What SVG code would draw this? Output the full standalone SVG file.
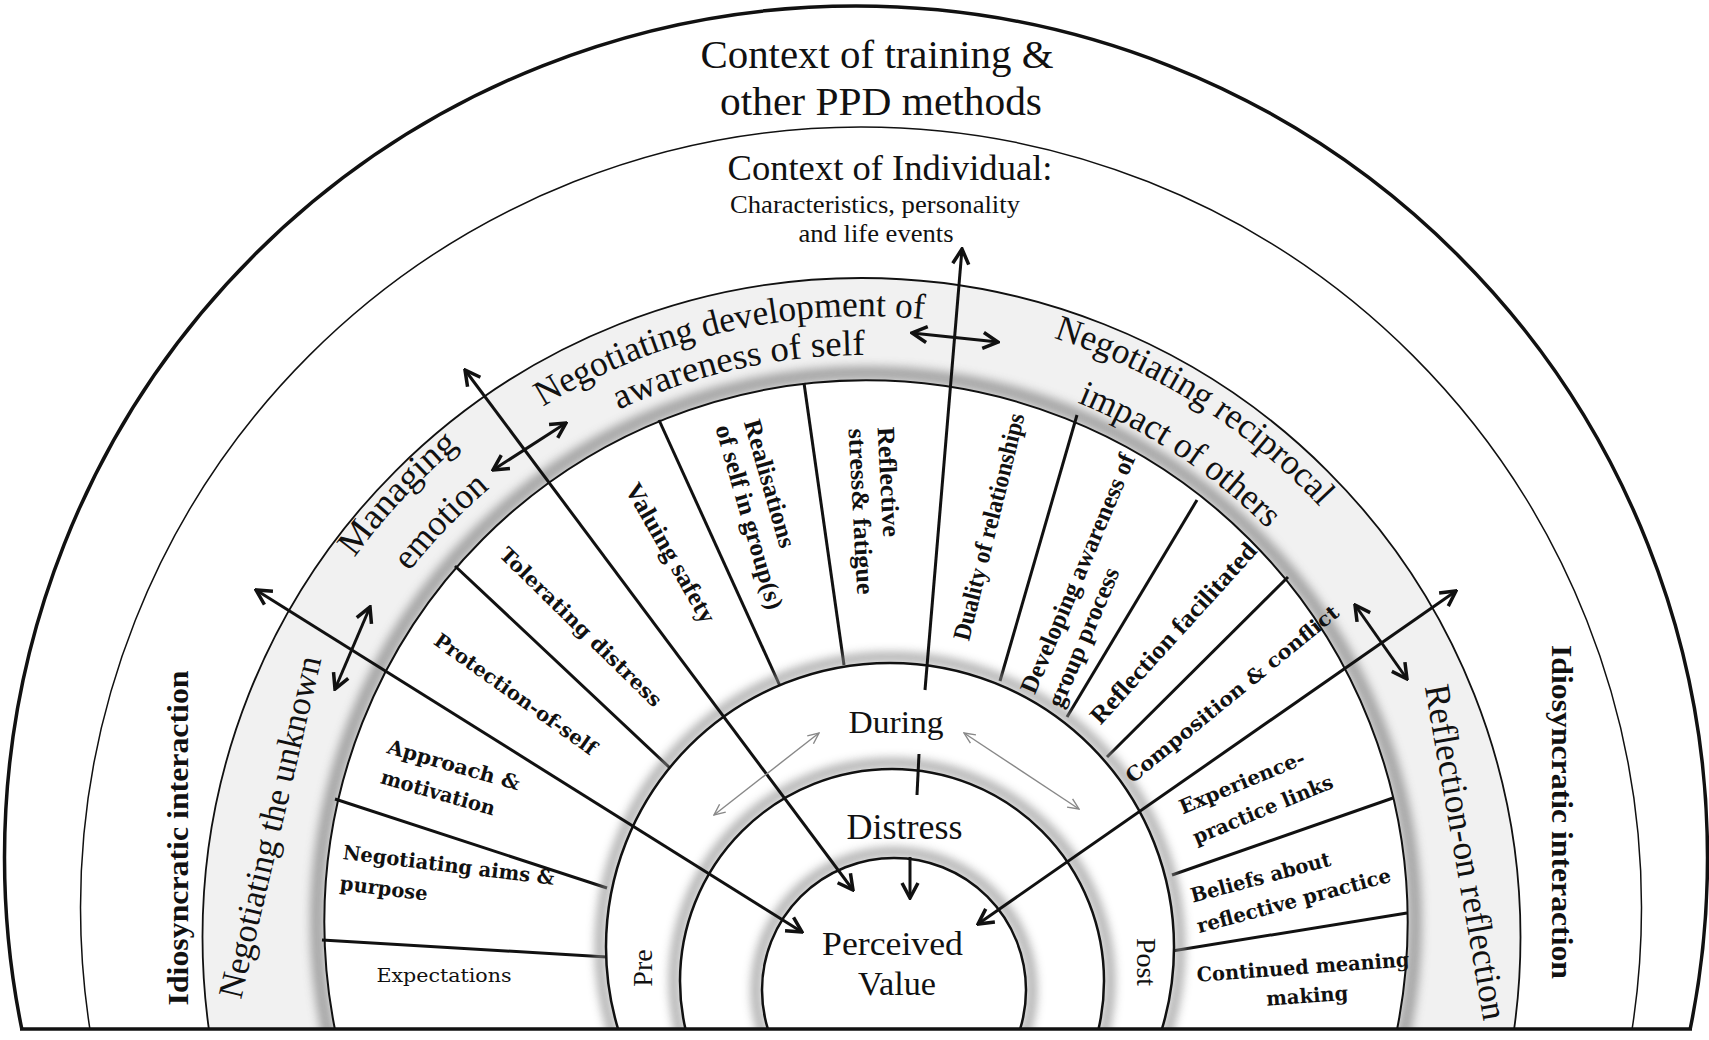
<svg xmlns="http://www.w3.org/2000/svg" width="1709" height="1040" viewBox="0 0 1709 1040">
<defs>
<style>
.t{font-family:"Liberation Serif","Times New Roman",serif;fill:#111}
.b{font-family:"Liberation Serif","Times New Roman",serif;font-weight:bold;font-size:25px;fill:#111}
.w{font-family:"DejaVu Serif",serif;font-weight:bold;font-size:20px;fill:#111}
.ring{stroke:#111;fill:#fff}
.spoke{stroke:#111;stroke-width:3}
.arr{stroke:#111;stroke-width:3;fill:none}
.thin{stroke:#888;stroke-width:1.4;fill:none}
.sh{fill:none;stroke:#8c8c8c;filter:url(#blur)}
</style>
<clipPath id="clip"><rect x="0" y="0" width="1709" height="1029"/></clipPath>
<filter id="blur" x="-10%" y="-10%" width="120%" height="120%"><feGaussianBlur stdDeviation="5"/></filter>
<marker id="ah" viewBox="0 0 20 20" refX="18" refY="10" markerWidth="20" markerHeight="20" markerUnits="userSpaceOnUse" orient="auto-start-reverse"><path d="M3,2 L18,10 L3,18" fill="none" stroke="#111" stroke-width="3.5"/></marker>
<marker id="ahs" viewBox="0 0 14 14" refX="13" refY="7" markerWidth="14" markerHeight="14" markerUnits="userSpaceOnUse" orient="auto-start-reverse"><path d="M2,2 L13,7 L2,12" fill="none" stroke="#888" stroke-width="1.4"/></marker>
<path id="pNd" d="M250,930 A614,614 0 0 1 1478,930"/>
<path id="pAw" d="M289,930 A575,575 0 0 1 1439,930"/>
<path id="pNr" d="M242,930 A622,622 0 0 1 1486,930"/>
<path id="pIm" d="M295,930 A569,569 0 0 1 1433,930"/>
<path id="pMa" d="M233,930 A631,631 0 0 1 1495,930"/>
<path id="pEm" d="M285,930 A579,579 0 0 1 1443,930"/>
</defs>
<rect width="1709" height="1040" fill="#fff"/>
<g id="rings" clip-path="url(#clip)">
<circle cx="856" cy="857.5" r="851.5" class="ring" stroke-width="3.5"/>
<circle cx="861" cy="907.5" r="780.5" class="ring" stroke-width="1.5"/>
<circle cx="861.5" cy="937" r="659" fill="#f1f1f1" stroke="#111" stroke-width="1.8"/>
<circle cx="866" cy="922" r="549" class="sh" stroke-width="14" opacity="0.75"/>
<circle cx="866" cy="922" r="541.7" class="ring" stroke-width="2"/>
<g id="spokes">
<line x1="322" y1="940" x2="607" y2="957" class="spoke"/>
<line x1="335" y1="799" x2="607" y2="888" class="spoke"/>
<line x1="455" y1="566" x2="670" y2="768" class="spoke"/>
<line x1="659" y1="420" x2="780" y2="686" class="spoke"/>
<line x1="804" y1="383" x2="844" y2="665" class="spoke"/>
<line x1="1000" y1="681" x2="1077" y2="415" class="spoke"/>
<line x1="1067" y1="717" x2="1197" y2="500" class="spoke"/>
<line x1="1107" y1="757" x2="1288" y2="577" class="spoke"/>
<line x1="1172" y1="875" x2="1393" y2="798" class="spoke"/>
<line x1="1172" y1="951" x2="1407" y2="913" class="spoke"/>
</g>
<circle cx="890" cy="947" r="290" class="sh" stroke-width="10" opacity="0.7"/>
<circle cx="890" cy="947" r="284" class="ring" stroke-width="2.5"/>
<circle cx="892" cy="981" r="218" class="sh" stroke-width="10" opacity="0.7"/>
<circle cx="892" cy="981" r="212" class="ring" stroke-width="2.5"/>
<circle cx="894" cy="990" r="138" class="sh" stroke-width="10" opacity="0.7"/>
<circle cx="894" cy="990" r="132" class="ring" stroke-width="2.5"/>
</g>
<line x1="20" y1="1029" x2="1692" y2="1029" stroke="#111" stroke-width="3.5"/>

<g id="context-training"><text class="t" font-size="41" x="877" y="68" text-anchor="middle" textLength="353" lengthAdjust="spacingAndGlyphs">Context of training &amp;</text><text class="t" font-size="41" x="881" y="115" text-anchor="middle" textLength="322" lengthAdjust="spacingAndGlyphs">other PPD methods</text></g>
<g id="context-individual"><text class="t" font-size="36" x="890" y="180" text-anchor="middle" textLength="325" lengthAdjust="spacingAndGlyphs">Context of Individual:</text><text class="t" font-size="25" x="875" y="213" text-anchor="middle" textLength="290" lengthAdjust="spacingAndGlyphs">Characteristics, personality</text><text class="t" font-size="25" x="876" y="242" text-anchor="middle" textLength="155" lengthAdjust="spacingAndGlyphs">and life events</text></g>
<g id="idio-left"><text class="b" style="font-size:30px" transform="translate(177,838) rotate(-90)" text-anchor="middle" dominant-baseline="central" textLength="335" lengthAdjust="spacingAndGlyphs">Idiosyncratic interaction</text></g>
<g id="idio-right"><text class="b" style="font-size:30px" transform="translate(1562,812) rotate(90)" text-anchor="middle" dominant-baseline="central" textLength="334" lengthAdjust="spacingAndGlyphs">Idiosyncratic interaction</text></g>

<g id="negotiating-unknown"><text class="t" font-size="35" transform="translate(270,827) rotate(-76.7)" text-anchor="middle" dominant-baseline="central" textLength="350" lengthAdjust="spacingAndGlyphs">Negotiating the unknown</text></g>
<g id="managing-emotion"><text class="t" font-size="36"><textPath href="#pMa" startOffset="474.6" text-anchor="middle" textLength="153" lengthAdjust="spacingAndGlyphs">Managing</textPath></text><text class="t" font-size="36"><textPath href="#pEm" startOffset="444.6" text-anchor="middle" textLength="116" lengthAdjust="spacingAndGlyphs">emotion</textPath></text></g>
<g id="negotiating-self"><text class="t" font-size="36"><textPath href="#pNd" startOffset="825.2" text-anchor="middle" textLength="398" lengthAdjust="spacingAndGlyphs">Negotiating development of</textPath></text><text class="t" font-size="36"><textPath href="#pAw" startOffset="776.8" text-anchor="middle" textLength="254" lengthAdjust="spacingAndGlyphs">awareness of self</textPath></text></g>
<g id="negotiating-others"><text class="t" font-size="36"><textPath href="#pNr" startOffset="1328.8" text-anchor="middle" textLength="319" lengthAdjust="spacingAndGlyphs">Negotiating reciprocal</textPath></text><text class="t" font-size="36"><textPath href="#pIm" startOffset="1227.4" text-anchor="middle" textLength="230" lengthAdjust="spacingAndGlyphs">impact of others</textPath></text></g>
<g id="reflection-on-reflection"><text class="t" font-size="36" transform="translate(1466,852) rotate(80)" text-anchor="middle" dominant-baseline="central" textLength="340" lengthAdjust="spacingAndGlyphs">Reflection-on reflection</text></g>

<g id="expectations"><text class="w" style="font-weight:normal;font-size:18px" x="444" y="975" text-anchor="middle" dominant-baseline="central" textLength="135" lengthAdjust="spacingAndGlyphs">Expectations</text></g>
<g id="aims" transform="translate(343,852) rotate(7)"><text class="w" dominant-baseline="central" textLength="213" lengthAdjust="spacingAndGlyphs">Negotiating aims &amp;</text><text class="w" x="1" y="31" dominant-baseline="central" textLength="88" lengthAdjust="spacingAndGlyphs">purpose</text></g>
<g id="approach" transform="translate(388,746) rotate(16)"><text class="w" dominant-baseline="central" textLength="137" lengthAdjust="spacingAndGlyphs">Approach &amp;</text><text class="w" x="2" y="31" dominant-baseline="central" textLength="118" lengthAdjust="spacingAndGlyphs">motivation</text></g>
<g id="protection"><text class="w" transform="translate(515.5,694) rotate(35.4)" text-anchor="middle" dominant-baseline="central" textLength="194" lengthAdjust="spacingAndGlyphs">Protection-of-self</text></g>
<g id="tolerating"><text class="w" transform="translate(581,627) rotate(44.4)" text-anchor="middle" dominant-baseline="central" textLength="218" lengthAdjust="spacingAndGlyphs">Tolerating distress</text></g>
<g id="valuing"><text class="b" transform="translate(671,553) rotate(60.2)" text-anchor="middle" dominant-baseline="central" textLength="157" lengthAdjust="spacingAndGlyphs">Valuing safety</text></g>
<g id="realisations" transform="translate(752,420) rotate(74)"><text class="b" dominant-baseline="central" textLength="132" lengthAdjust="spacingAndGlyphs">Realisations</text><text class="b" x="-3" y="29" dominant-baseline="central" textLength="191" lengthAdjust="spacingAndGlyphs">of self in group(s)</text></g>
<g id="reflective" transform="translate(886,427) rotate(87)"><text class="b" dominant-baseline="central" textLength="110" lengthAdjust="spacingAndGlyphs">Reflective</text><text class="b" x="0" y="29" dominant-baseline="central" textLength="166" lengthAdjust="spacingAndGlyphs">stress&amp; fatigue</text></g>
<g id="duality"><text class="b" transform="translate(988.6,526.7) rotate(-76.2)" text-anchor="middle" dominant-baseline="central" textLength="233" lengthAdjust="spacingAndGlyphs">Duality of relationships</text></g>
<g id="developing" transform="translate(1027,692) rotate(-67)"><text class="b" dominant-baseline="central" textLength="258" lengthAdjust="spacingAndGlyphs">Developing awareness of</text><text class="b" x="-2" y="30" dominant-baseline="central" textLength="149" lengthAdjust="spacingAndGlyphs">group process</text></g>
<g id="reflection-facilitated"><text class="b" transform="translate(1173,633) rotate(-47.8)" text-anchor="middle" dominant-baseline="central" textLength="235" lengthAdjust="spacingAndGlyphs">Reflection facilitated</text></g>
<g id="composition"><text class="w" transform="translate(1232,694) rotate(-39.1)" text-anchor="middle" dominant-baseline="central" textLength="268" lengthAdjust="spacingAndGlyphs">Composition &amp; conflict</text></g>
<g id="experience" transform="translate(1180,808) rotate(-22.5)"><text class="w" dominant-baseline="central" textLength="134" lengthAdjust="spacingAndGlyphs">Experience-</text><text class="w" x="1" y="33" dominant-baseline="central" textLength="150" lengthAdjust="spacingAndGlyphs">practice links</text></g>
<g id="beliefs" transform="translate(1191,896) rotate(-15)"><text class="w" dominant-baseline="central" textLength="144" lengthAdjust="spacingAndGlyphs">Beliefs about</text><text class="w" x="-2" y="31" dominant-baseline="central" textLength="200" lengthAdjust="spacingAndGlyphs">reflective practice</text></g>
<g id="continued" transform="translate(1303,967) rotate(-4.2)"><text class="w" text-anchor="middle" dominant-baseline="central" textLength="213" lengthAdjust="spacingAndGlyphs">Continued meaning</text><text class="w" x="2" y="29" text-anchor="middle" dominant-baseline="central" textLength="82" lengthAdjust="spacingAndGlyphs">making</text></g>

<g id="pre"><text class="t" font-size="28" transform="translate(642,968) rotate(-90)" text-anchor="middle" dominant-baseline="central">Pre</text></g>
<g id="post"><text class="t" font-size="28" transform="translate(1146,962) rotate(90)" text-anchor="middle" dominant-baseline="central">Post</text></g>
<g id="during"><text class="t" font-size="31" x="896" y="733" text-anchor="middle" textLength="95" lengthAdjust="spacingAndGlyphs">During</text></g>
<g id="distress"><text class="t" font-size="35" x="904.5" y="839" text-anchor="middle" textLength="116" lengthAdjust="spacingAndGlyphs">Distress</text></g>
<g id="perceived-value"><text class="t" font-size="34" x="892.5" y="955" text-anchor="middle" textLength="141" lengthAdjust="spacingAndGlyphs">Perceived</text><text class="t" font-size="34" x="897" y="995" text-anchor="middle" textLength="78" lengthAdjust="spacingAndGlyphs">Value</text></g>

<g id="connectors">
<line x1="256" y1="590" x2="802" y2="932" class="arr" marker-start="url(#ah)" marker-end="url(#ah)"/>
<line x1="465" y1="370" x2="853" y2="890" class="arr" marker-start="url(#ah)" marker-end="url(#ah)"/>
<line x1="1456" y1="591" x2="978" y2="924" class="arr" marker-start="url(#ah)" marker-end="url(#ah)"/>
<line x1="925" y1="690" x2="962" y2="249" class="arr" marker-end="url(#ah)"/>
<line x1="919" y1="754" x2="917" y2="795" class="arr"/>
<line x1="910" y1="857" x2="910" y2="898" class="arr" marker-end="url(#ah)"/>
<line x1="335" y1="689" x2="370" y2="607" class="arr" stroke-width="3.5" marker-start="url(#ah)" marker-end="url(#ah)"/>
<line x1="493" y1="470" x2="566" y2="423" class="arr" stroke-width="3.5" marker-start="url(#ah)" marker-end="url(#ah)"/>
<line x1="912" y1="333" x2="998" y2="342" class="arr" stroke-width="3.5" marker-start="url(#ah)" marker-end="url(#ah)"/>
<line x1="1355" y1="605" x2="1407" y2="679" class="arr" stroke-width="3.5" marker-start="url(#ah)" marker-end="url(#ah)"/>
<line x1="714" y1="815" x2="819" y2="733" class="thin" marker-start="url(#ahs)" marker-end="url(#ahs)"/>
<line x1="964" y1="733" x2="1079" y2="809" class="thin" marker-start="url(#ahs)" marker-end="url(#ahs)"/>
</g>
</svg>
